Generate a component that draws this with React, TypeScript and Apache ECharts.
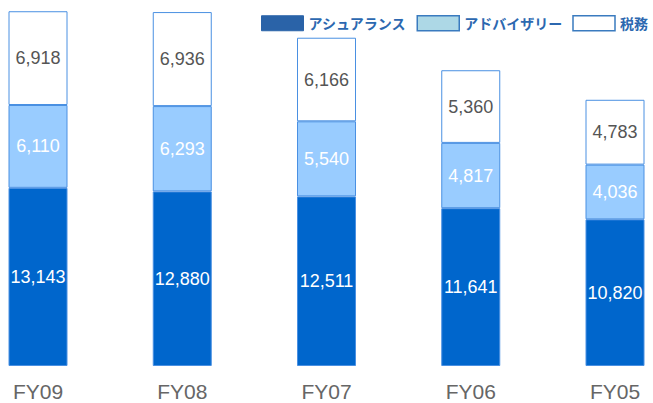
import React, { useEffect, useRef } from "react";
import * as echarts from "echarts";

const categories = ["FY09", "FY08", "FY07", "FY06", "FY05"];
const assurance = [13143, 12880, 12511, 11641, 10820];
const advisory = [6110, 6293, 5540, 4817, 4036];
const tax = [6918, 6936, 6166, 5360, 4783];
const seriesNames = ["アシュアランス", "アドバイザリー", "税務"];

const fmt = (v: number) => v.toLocaleString("en-US");

export default function App() {
  const ref = useRef<HTMLDivElement>(null);
  useEffect(() => {
    if (!ref.current) return;
    const chart = echarts.init(ref.current, undefined, { renderer: "svg" });
    const border = "#4A90E2";
    const labelBase = {
      show: true,
      position: "inside" as const,
      fontSize: 18,
      fontFamily: "Liberation Sans, Arial, sans-serif",
      formatter: (p: any) => fmt(p.value),
    };
    chart.setOption({
      animation: false,
      backgroundColor: "#ffffff",
      grid: { left: 38, right: 38, top: 0, bottom: 37 },
      legend: {
        top: 10,
        right: 0,
        icon: "rect",
        itemWidth: 42,
        itemHeight: 15,
        itemGap: 10,
        textStyle: {
          color: "#2C68B0",
          fontSize: 14,
          fontWeight: "bold",
          fontFamily: "Noto Sans CJK JP, sans-serif",
        },
        data: [
          { name: seriesNames[0], itemStyle: { color: "#2A63A8", borderColor: "#2A63A8", borderWidth: 1 } },
          { name: seriesNames[1], itemStyle: { color: "#ADD8E6", borderColor: "#3A7BBF", borderWidth: 1.5 } },
          { name: seriesNames[2], itemStyle: { color: "#ffffff", borderColor: "#3A7BBF", borderWidth: 1.5 } },
        ],
      },
      xAxis: {
        type: "category",
        data: categories,
        boundaryGap: false,
        axisLine: { show: false },
        axisTick: { show: false },
        axisLabel: {
          color: "#666666",
          fontSize: 21,
          margin: 15,
          fontFamily: "Liberation Sans, Arial, sans-serif",
        },
      },
      yAxis: {
        type: "value",
        min: 0,
        max: 27000,
        show: false,
        splitLine: { show: false },
      },
      series: [
        {
          name: seriesNames[0],
          type: "bar",
          stack: "total",
          barWidth: 59,
          data: assurance,
          itemStyle: { color: "#0066CC", borderColor: border, borderWidth: 1 },
          label: { ...labelBase, color: "#ffffff" },
        },
        {
          name: seriesNames[1],
          type: "bar",
          stack: "total",
          barWidth: 59,
          data: advisory,
          itemStyle: { color: "#99CCFF", borderColor: border, borderWidth: 1 },
          label: { ...labelBase, color: "#ffffff" },
        },
        {
          name: seriesNames[2],
          type: "bar",
          stack: "total",
          barWidth: 59,
          data: tax,
          itemStyle: { color: "#ffffff", borderColor: border, borderWidth: 1 },
          label: { ...labelBase, color: "#555555" },
        },
      ],
    });
    return () => chart.dispose();
  }, []);
  return (
    <div
      ref={ref}
      style={{ position: "absolute", left: 0, top: 0, width: 653, height: 403 }}
    />
  );
}
